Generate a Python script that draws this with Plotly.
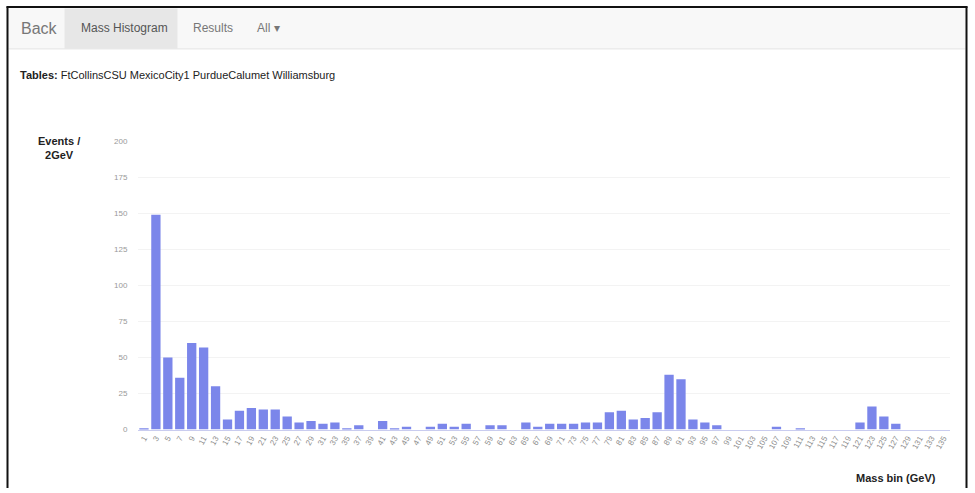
import plotly.graph_objects as go

# Data
mass_bins = list(range(1, 137, 2))  # bin centres (GeV)
events = [1, 149, 50, 36, 60, 57, 30, 7, 13, 15,
          14, 14, 9, 5, 6, 4, 5, 1, 3, 0,
          6, 1, 2, 0, 2, 4, 2, 4, 0, 3,
          3, 0, 5, 2, 4, 4, 4, 5, 5, 12,
          13, 7, 8, 12, 38, 35, 7, 5, 3, 0,
          0, 0, 0, 2, 0, 1, 0, 0, 0, 0,
          5, 16, 9, 4, 0, 0, 0, 0]
y_ticks = [0, 25, 50, 75, 100, 125, 150, 175, 200]
tables = ["FtCollinsCSU", "MexicoCity1", "PurdueCalumet", "Williamsburg"]
nav_items = ["Back", "Mass Histogram", "Results", "All \u25BE"]

W, H = 975, 493
FONT = "Helvetica Neue, Helvetica, Arial, Liberation Sans, sans-serif"

def px(x):
    return (x - 1.5) / W

def py(y):
    # compensate the vertical scaling observed in the rendered page
    y2 = (y - 3.6) / 0.982
    return 1 - y2 / H

labels = [str(b) for b in mass_bins]

fig = go.Figure()
fig.add_trace(go.Bar(
    x=labels, y=events,
    marker=dict(color="#7b86ea", line=dict(width=0)),
    hoverinfo="x+y",
))

shapes = []
shapes.append(dict(type="rect", xref="paper", yref="paper",
                   x0=px(10), x1=px(967), y0=py(48), y1=py(8),
                   fillcolor="#f8f8f8", line=dict(width=0), layer="below"))
shapes.append(dict(type="rect", xref="paper", yref="paper",
                   x0=px(66), x1=px(179), y0=py(48), y1=py(8),
                   fillcolor="#e7e7e7", line=dict(width=0), layer="below"))
shapes.append(dict(type="line", xref="paper", yref="paper",
                   x0=px(10), x1=px(967), y0=py(48.5), y1=py(48.5),
                   line=dict(color="#e2e2e2", width=1)))
shapes.append(dict(type="line", xref="paper", yref="paper",
                   x0=px(9), x1=px(9), y0=0, y1=py(6),
                   line=dict(color="#111111", width=2)))
shapes.append(dict(type="line", xref="paper", yref="paper",
                   x0=px(8), x1=px(969), y0=py(6.5), y1=py(6.5),
                   line=dict(color="#111111", width=2)))
shapes.append(dict(type="line", xref="paper", yref="paper",
                   x0=px(968), x1=px(968), y0=0, y1=py(6),
                   line=dict(color="#111111", width=2)))

annotations = []
nav_x = [20, 80, 192, 256]
nav_sizes = [16, 12, 12, 12]
nav_colors = ["#777777", "#555555", "#777777", "#777777"]
for t, x, s, c in zip(nav_items, nav_x, nav_sizes, nav_colors):
    annotations.append(dict(text=t, x=px(x), y=py(28), xref="paper", yref="paper",
                            xanchor="left", yanchor="middle", showarrow=False,
                            font=dict(family=FONT, size=s, color=c)))
annotations.append(dict(text="<b>Tables:</b> " + " ".join(tables),
                        x=px(19), y=py(75), xref="paper", yref="paper",
                        xanchor="left", yanchor="middle", showarrow=False,
                        font=dict(family=FONT, size=11, color="#222222")))
annotations.append(dict(text="<b>Events /</b><br><b>2GeV</b>",
                        x=px(60), y=py(133), xref="paper", yref="paper",
                        xanchor="center", yanchor="top", showarrow=False,
                        font=dict(family=FONT, size=11, color="#222222")))
annotations.append(dict(text="<b>Mass bin (GeV)</b>",
                        x=px(897), y=py(478), xref="paper", yref="paper",
                        xanchor="center", yanchor="middle", showarrow=False,
                        font=dict(family=FONT, size=11, color="#222222")))

fig.update_layout(
    width=W, height=H,
    margin=dict(l=0, r=0, t=0, b=0),
    paper_bgcolor="white", plot_bgcolor="white",
    showlegend=False,
    bargap=0.22,
    shapes=shapes,
    annotations=annotations,
    xaxis=dict(domain=[px(139.5), px(951)], type="category",
               tickangle=-60, tickfont=dict(family=FONT, size=8, color="#8c8c8c"),
               showgrid=False, showline=True, linecolor="#c9ccef", linewidth=1,
               ticks="", ticklen=0),
    yaxis=dict(domain=[py(429.3), py(141)], range=[0, 200],
               tickvals=y_ticks, ticktext=[str(v) for v in y_ticks],
               tickfont=dict(family=FONT, size=8, color="#999999"),
               gridcolor="#f3f3f3", gridwidth=1, zeroline=False,
               ticks="outside", ticklen=8, tickcolor="white"),
)

post = (
    "document.documentElement.style.margin='0';"
    "document.documentElement.style.padding='0';"
    "document.documentElement.style.overflow='hidden';"
    "document.body.style.margin='0';"
    "document.body.style.padding='0';"
    "document.body.style.overflow='hidden';"
)

fig.write_html("out.html", config={"displayModeBar": False}, post_script=post)
